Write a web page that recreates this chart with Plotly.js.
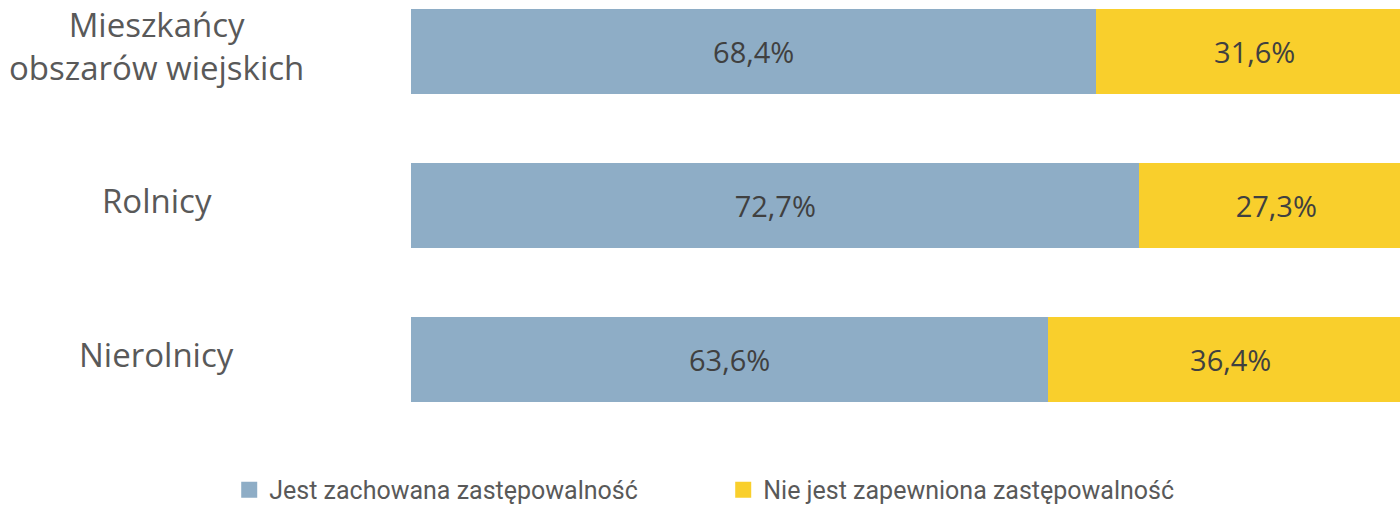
<!DOCTYPE html>
<html>
<head>
<meta charset="utf-8">
<script src="https://cdn.plot.ly/plotly-3.0.1.min.js"></script>
<style>html,body{margin:0;padding:0;background:#fff;}#chart{width:1400px;height:505px;}</style>
</head>
<body>
<div id="chart"></div>
<script>
var categories = ["Mieszkańcy<br>obszarów wiejskich", "Rolnicy", "Nierolnicy"];
var seriesNames = ["Jest zachowana zastępowalność", "Nie jest zapewniona zastępowalność"];
var zachowana = [68.4, 72.7, 63.6];
var niezapewniona = [31.6, 27.3, 36.4];
var colors = ["#8EADC6", "#F9CF2C"];

function fmt(v){ return v.toFixed(1).replace('.', ',') + '%'; }

var series = [zachowana, niezapewniona];
var traces = series.map(function(vals, i){
  return {
    type: 'bar', orientation: 'h',
    y: categories, x: vals,
    name: seriesNames[i],
    showlegend: false,
    marker: {color: colors[i], line: {width: 0}},
    width: 0.55,
    text: vals.map(fmt),
    textposition: 'inside', insidetextanchor: 'middle',
    textfont: {family: 'Open Sans', size: 29, color: '#404040'},
    cliponaxis: true,
    hoverinfo: 'skip'
  };
});
// legend entries (square swatches)
seriesNames.forEach(function(n, i){
  traces.push({
    type: 'scatter', mode: 'markers', x: [null], y: [null], name: n,
    marker: {symbol: 'square', size: 22, color: colors[i]},
    showlegend: true, hoverinfo: 'skip'
  });
});

var annotations = categories.map(function(c){
  return {
    xref: 'paper', yref: 'y', x: -0.257, y: c, text: c, yshift: 5,
    showarrow: false, xanchor: 'center', yanchor: 'middle', align: 'center',
    font: {family: 'Open Sans', size: 33, color: '#595959'}
  };
});

var layout = {
  width: 1400, height: 505,
  margin: {l: 411, r: 0, t: 0, b: 75, autoexpand: false},
  barmode: 'stack',
  paper_bgcolor: '#ffffff', plot_bgcolor: '#ffffff',
  showlegend: true,
  legend: {
    orientation: 'h', x: -0.1838, xanchor: 'left', y: -0.086, yanchor: 'top',
    font: {family: 'Roboto', size: 25, color: '#595959'},
    entrywidth: 449, entrywidthmode: 'pixels', traceorder: 'normal',
    itemsizing: 'trace'
  },
  xaxis: {range: [0, 98.7], visible: false, fixedrange: true},
  yaxis: {type: 'category', categoryorder: 'array', categoryarray: categories,
          range: [2.458, -0.334], showticklabels: false, showgrid: false, zeroline: false,
          showline: false, ticks: ''},
  annotations: annotations,
  uniformtext: {mode: 'show', minsize: 10}
};

Plotly.newPlot('chart', traces, layout, {displayModeBar: false, staticPlot: true});
</script>
</body>
</html>
